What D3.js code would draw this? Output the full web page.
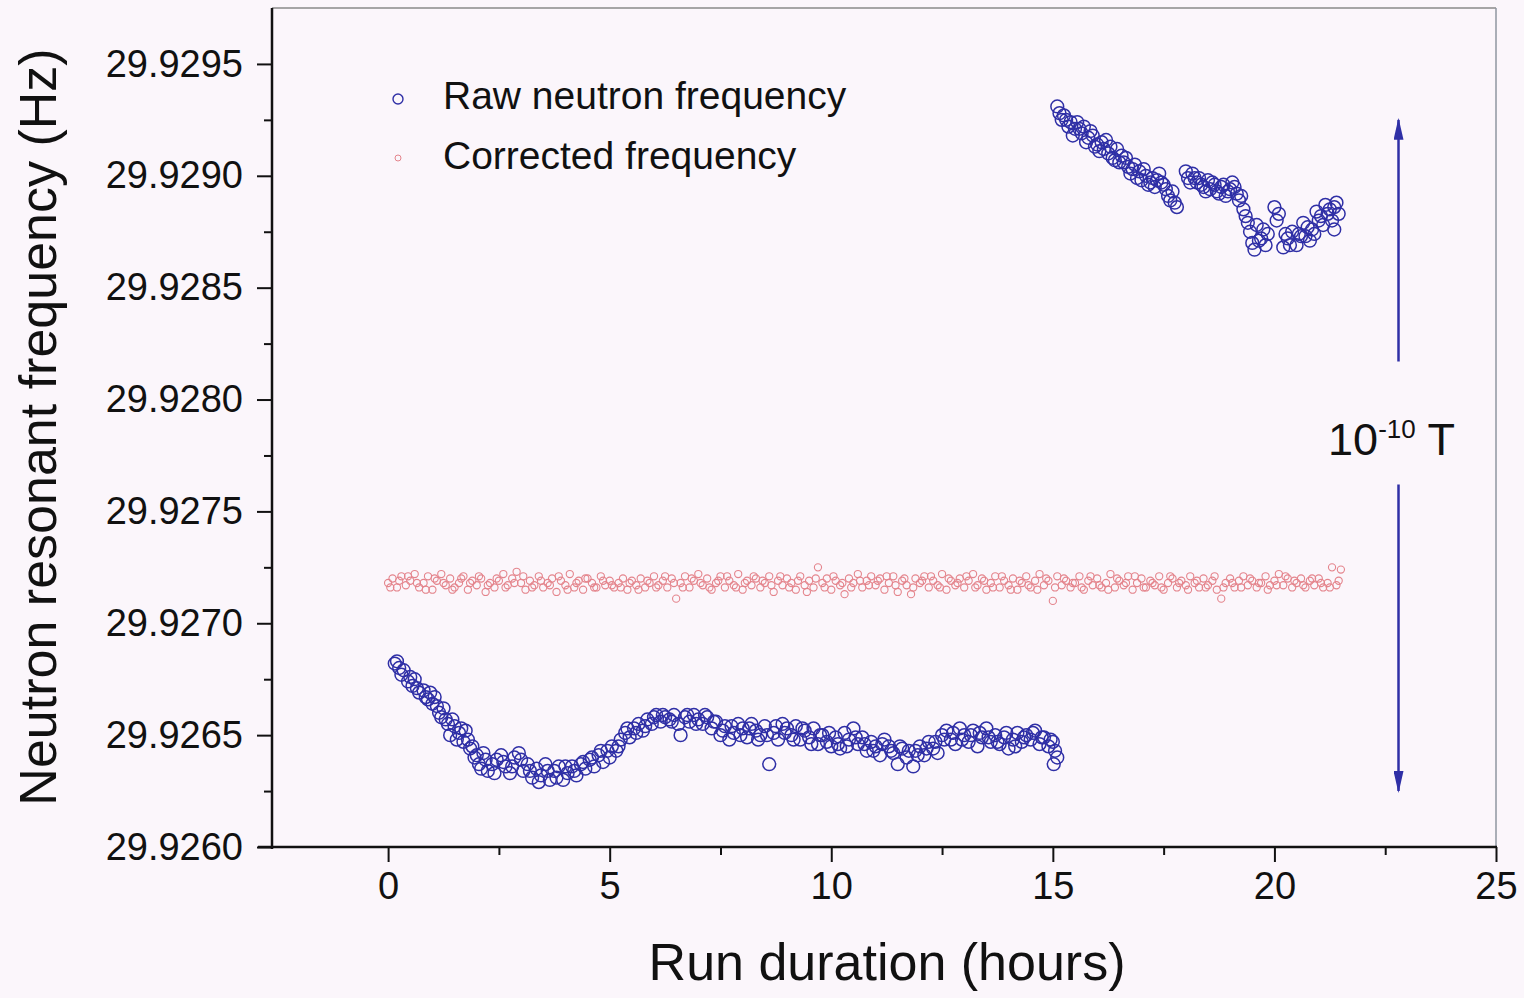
<!DOCTYPE html>
<html>
<head>
<meta charset="utf-8">
<script src="https://cdn.jsdelivr.net/npm/d3@7"></script>
<style>
  html, body { margin: 0; padding: 0; background: #fbf6fb; }
  svg { display: block; font-family: "Liberation Sans", Arial, sans-serif; }
</style>
</head>
<body>
<div id="chart"></div>
<script>
// [hours, Hz]
const rawEarly = [
  [0.15,29.92682],[0.2,29.92683],[0.3,29.92677],[0.35,29.92679],[0.45,29.92674],[0.55,29.92672],[0.6,29.92675],[0.7,29.92669],
  [0.8,29.92670],[0.9,29.92666],[1.0,29.92664],[1.05,29.92667],[1.15,29.92660],[1.25,29.92662],[1.3,29.92657],[1.4,29.92650],
  [1.5,29.92654],[1.6,29.92651],[1.7,29.92647],[1.75,29.92652],[1.85,29.92644],[1.95,29.92640],[2.05,29.92637],[2.15,29.92642],
  [2.25,29.92634],[2.35,29.92637],[2.45,29.92639],[2.55,29.92641],[2.65,29.92636],[2.75,29.92633],[2.85,29.92640],[2.95,29.92642],
  [3.05,29.92634],[3.15,29.92637],[3.25,29.92631],[3.35,29.92635],[3.45,29.92632],[3.55,29.92637],[3.65,29.92630],[3.75,29.92634],
  [3.85,29.92636],[3.95,29.92630],[4.05,29.92633],[4.15,29.92636],[4.25,29.92632],[4.35,29.92637],[4.45,29.92635],[4.55,29.92639],
  [4.65,29.92636],[4.75,29.92641],[4.85,29.92638],[4.95,29.92643],[5.05,29.92645],[5.15,29.92643],[5.25,29.92648],[5.35,29.92651],
  [5.45,29.92649],[5.55,29.92653],[5.65,29.92655],[5.75,29.92652],[5.85,29.92657],[5.95,29.92655],[6.05,29.92659],[6.15,29.92656],
  [6.25,29.92658],[6.35,29.92657],[6.45,29.92659],[6.55,29.92655],[6.6,29.92650],[6.7,29.92658],[6.8,29.92656],[6.9,29.92659],
  [7.0,29.92657],[7.1,29.92655],[7.2,29.92658],[7.3,29.92653],[7.4,29.92656],[7.5,29.92650],[7.6,29.92654],[7.7,29.92648],
  [7.8,29.92651],[7.9,29.92655],[8.0,29.92653],[8.1,29.92649],[8.2,29.92655],[8.3,29.92652],[8.4,29.92650],[8.5,29.92654],
  [8.6,29.92637],[8.7,29.92651],[8.8,29.92648],[8.9,29.92655],[9.0,29.92653],[9.1,29.92650],[9.2,29.92654],[9.3,29.92648],
  [9.4,29.92652],[9.5,29.92649],[9.6,29.92653],[9.7,29.92646],[9.8,29.92650],[9.9,29.92647],[10.0,29.92645],[10.1,29.92649],
  [10.2,29.92644],[10.3,29.92651],[10.4,29.92648],[10.5,29.92653],[10.6,29.92646],[10.7,29.92649],[10.8,29.92643],[10.9,29.92647],
  [11.0,29.92645],[11.1,29.92641],[11.2,29.92648],[11.3,29.92645],[11.4,29.92642],[11.5,29.92637],[11.6,29.92644],[11.7,29.92640],
  [11.85,29.92636],[11.9,29.92643],[12.0,29.92645],[12.1,29.92641],[12.2,29.92647],[12.3,29.92644],[12.4,29.92642],[12.5,29.92650],
  [12.6,29.92652],[12.7,29.92648],[12.8,29.92646],[12.9,29.92653],[13.0,29.92650],[13.1,29.92647],[13.2,29.92652],[13.3,29.92645],
  [13.4,29.92649],[13.5,29.92653],[13.6,29.92647],[13.7,29.92650],[13.8,29.92646],[13.9,29.92649],[14.0,29.92644],[14.1,29.92648],
  [14.2,29.92651],[14.3,29.92647],[14.4,29.92650],[14.5,29.92648],[14.6,29.92652],[14.7,29.92646],[14.8,29.92649],[14.9,29.92645],
  [15.0,29.92647],[15.02,29.92637],[15.05,29.92643],[15.1,29.92640],
  [0.25,29.92680],[0.5,29.92676],[0.65,29.92671],[0.85,29.92667],[0.95,29.92669],[1.1,29.92663],[1.2,29.92658],[1.35,29.92655],
  [1.45,29.92657],[1.55,29.92648],[1.65,29.92653],[1.8,29.92648],[1.9,29.92645],[2.0,29.92641],[2.1,29.92635],[2.2,29.92639],
  [2.4,29.92633],[2.6,29.92638],[2.8,29.92636],[3.0,29.92639],[3.2,29.92634],[3.4,29.92629],[3.6,29.92634],[3.8,29.92631],
  [4.0,29.92636],[4.2,29.92634],[4.4,29.92638],[4.6,29.92640],[4.8,29.92643],[5.0,29.92640],[5.2,29.92645],[5.4,29.92653],
  [5.6,29.92651],[5.8,29.92654],[6.0,29.92658],[6.2,29.92659],[6.4,29.92656],[6.75,29.92659],[6.95,29.92655],[7.15,29.92659],
  [7.35,29.92656],[7.55,29.92652],[7.75,29.92654],[7.95,29.92650],[8.15,29.92653],[8.35,29.92648],[8.55,29.92650],[8.75,29.92654],
  [8.95,29.92651],[9.15,29.92648],[9.35,29.92653],[9.55,29.92646],[9.75,29.92650],[9.95,29.92651],[10.15,29.92646],[10.35,29.92645],
  [10.55,29.92649],[10.75,29.92646],[10.95,29.92643],[11.15,29.92646],[11.35,29.92643],[11.55,29.92645],[11.75,29.92643],[11.95,29.92641],
  [12.15,29.92644],[12.35,29.92647],[12.55,29.92648],[12.75,29.92651],[12.95,29.92648],[13.15,29.92650],[13.35,29.92651],[13.55,29.92649],
  [13.75,29.92647],[13.95,29.92651],[14.15,29.92645],[14.35,29.92649],[14.55,29.92651],[14.75,29.92649],[14.95,29.92648]
];

const rawLate = [
  [15.1,29.92931],[15.15,29.92928],[15.2,29.92925],[15.25,29.92927],[15.35,29.92922],[15.4,29.92924],[15.5,29.92921],[15.55,29.92924],
  [15.65,29.92919],[15.7,29.92922],[15.8,29.92917],[15.9,29.92918],[15.95,29.92913],[16.05,29.92911],[16.1,29.92915],[16.2,29.92916],
  [16.25,29.92910],[16.35,29.92908],[16.45,29.92912],[16.55,29.92909],[16.6,29.92906],[16.7,29.92904],[16.75,29.92901],[16.85,29.92905],
  [16.95,29.92902],[17.0,29.92898],[17.1,29.92900],[17.15,29.92896],[17.25,29.92899],[17.3,29.92895],[17.4,29.92901],[17.45,29.92897],
  [17.55,29.92894],[17.6,29.92891],[17.7,29.92893],[17.75,29.92888],[17.8,29.92886],[18.0,29.92902],[18.05,29.92899],[18.15,29.92901],
  [18.25,29.92897],[18.3,29.92899],[18.4,29.92895],[18.5,29.92898],[18.55,29.92894],[18.65,29.92896],[18.75,29.92892],[18.8,29.92895],
  [18.9,29.92891],[19.0,29.92894],[19.05,29.92897],[19.15,29.92892],[19.2,29.92889],[19.3,29.92885],[19.35,29.92882],[19.45,29.92875],
  [19.5,29.92870],[19.55,29.92867],[19.6,29.92878],[19.7,29.92872],[19.8,29.92869],[19.85,29.92874],[20.0,29.92886],[20.1,29.92883],
  [20.2,29.92868],[20.3,29.92872],[20.4,29.92875],[20.5,29.92869],[20.6,29.92873],[20.65,29.92879],[20.75,29.92877],[20.8,29.92871],
  [20.9,29.92874],[20.95,29.92884],[21.05,29.92882],[21.1,29.92878],[21.15,29.92887],[21.25,29.92885],[21.3,29.92880],[21.35,29.92876],
  [21.4,29.92888],[21.45,29.92883],
  [15.3,29.92925],[15.45,29.92918],[15.6,29.92921],[15.75,29.92915],[15.85,29.92920],[16.0,29.92914],[16.15,29.92912],[16.3,29.92913],
  [16.4,29.92907],[16.5,29.92906],[16.65,29.92908],[16.8,29.92903],[16.9,29.92899],[17.05,29.92903],[17.2,29.92897],[17.35,29.92898],
  [17.5,29.92896],[17.65,29.92889],[18.1,29.92897],[18.2,29.92899],[18.35,29.92896],[18.45,29.92893],[18.6,29.92897],[18.7,29.92893],
  [18.85,29.92896],[18.95,29.92893],[19.1,29.92895],[19.25,29.92891],[19.4,29.92879],[19.65,29.92871],[19.75,29.92876],[20.05,29.92880],
  [20.25,29.92874],[20.35,29.92869],[20.55,29.92874],[20.7,29.92873],[20.85,29.92876],[21.0,29.92880],[21.2,29.92883],[21.35,29.92886]
];

const corrected = [
  [0.0,29.92718],[0.1,29.92720],[0.2,29.92716],[0.3,29.92721],[0.4,29.92717],[0.5,29.92719],[0.6,29.92722],[0.7,29.92716],[0.8,29.92718],
  [0.9,29.92721],[1.0,29.92715],[1.1,29.92719],[1.2,29.92722],[1.3,29.92717],[1.4,29.92720],[1.5,29.92716],[1.6,29.92718],[1.7,29.92721],
  [1.8,29.92715],[1.9,29.92719],[2.0,29.92717],[2.1,29.92720],[2.2,29.92714],[2.3,29.92718],[2.4,29.92716],[2.5,29.92719],[2.6,29.92722],
  [2.7,29.92717],[2.8,29.92720],[2.9,29.92723],[3.0,29.92718],[3.1,29.92715],[3.2,29.92719],[3.3,29.92717],[3.4,29.92721],[3.5,29.92716],
  [3.6,29.92718],[3.7,29.92720],[3.8,29.92714],[3.9,29.92719],[4.0,29.92717],[4.1,29.92722],[4.2,29.92716],[4.3,29.92719],[4.4,29.92715],
  [4.5,29.92720],[4.6,29.92718],[4.7,29.92716],[4.8,29.92721],[4.9,29.92717],[5.0,29.92719],[5.1,29.92716],[5.2,29.92718],[5.3,29.92720],
  [5.4,29.92715],[5.5,29.92719],[5.6,29.92717],[5.7,29.92720],[5.8,29.92716],[5.9,29.92718],[6.0,29.92721],[6.1,29.92717],[6.2,29.92719],
  [6.3,29.92716],[6.4,29.92720],[6.5,29.92711],[6.6,29.92718],[6.7,29.92721],[6.8,29.92716],[6.9,29.92719],[7.0,29.92722],[7.1,29.92717],
  [7.2,29.92720],[7.3,29.92715],[7.4,29.92718],[7.5,29.92721],[7.6,29.92716],[7.7,29.92719],[7.8,29.92717],[7.9,29.92722],[8.0,29.92715],
  [8.1,29.92719],[8.2,29.92717],[8.3,29.92720],[8.4,29.92716],[8.5,29.92718],[8.6,29.92721],[8.7,29.92714],[8.8,29.92719],[8.9,29.92717],
  [9.0,29.92720],[9.1,29.92718],[9.2,29.92715],[9.3,29.92721],[9.4,29.92717],[9.5,29.92719],[9.6,29.92716],[9.7,29.92725],[9.8,29.92718],
  [9.9,29.92720],[10.0,29.92715],[10.1,29.92719],[10.2,29.92717],[10.3,29.92713],[10.4,29.92720],[10.5,29.92718],[10.6,29.92722],[10.7,29.92716],
  [10.8,29.92719],[10.9,29.92721],[11.0,29.92717],[11.1,29.92720],[11.2,29.92715],[11.3,29.92718],[11.4,29.92721],[11.5,29.92714],[11.6,29.92719],
  [11.7,29.92717],[11.8,29.92713],[11.9,29.92720],[12.0,29.92718],[12.1,29.92721],[12.2,29.92716],[12.3,29.92719],[12.4,29.92717],[12.5,29.92722],
  [12.6,29.92715],[12.7,29.92719],[12.8,29.92717],[12.9,29.92720],[13.0,29.92716],[13.1,29.92719],[13.2,29.92722],[13.3,29.92717],[13.4,29.92720],
  [13.5,29.92715],[13.6,29.92718],[13.7,29.92721],[13.8,29.92716],[13.9,29.92719],[14.0,29.92717],[14.1,29.92720],[14.2,29.92715],[14.3,29.92718],
  [14.4,29.92721],[14.5,29.92716],[14.6,29.92719],[14.7,29.92722],[14.8,29.92717],[14.9,29.92719],[15.0,29.92710],[15.1,29.92721],[15.2,29.92717],
  [15.3,29.92719],[15.4,29.92716],[15.5,29.92718],[15.6,29.92721],[15.7,29.92715],[15.8,29.92719],[15.9,29.92717],[16.0,29.92720],[16.1,29.92716],
  [16.2,29.92718],[16.3,29.92722],[16.4,29.92716],[16.5,29.92719],[16.6,29.92717],[16.7,29.92721],[16.8,29.92715],[16.9,29.92718],[17.0,29.92720],
  [17.1,29.92716],[17.2,29.92719],[17.3,29.92717],[17.4,29.92721],[17.5,29.92715],[17.6,29.92718],[17.7,29.92720],[17.8,29.92716],[17.9,29.92719],
  [18.0,29.92717],[18.1,29.92721],[18.2,29.92718],[18.3,29.92716],[18.4,29.92720],[18.5,29.92717],[18.6,29.92719],[18.7,29.92715],[18.8,29.92711],
  [18.9,29.92718],[19.0,29.92720],[19.1,29.92716],[19.2,29.92719],[19.3,29.92721],[19.4,29.92717],[19.5,29.92719],[19.6,29.92716],[19.7,29.92718],
  [19.8,29.92721],[19.9,29.92717],[20.0,29.92719],[20.1,29.92722],[20.2,29.92717],[20.3,29.92720],[20.4,29.92716],[20.5,29.92718],[20.6,29.92720],
  [20.7,29.92716],[20.8,29.92719],[20.9,29.92717],[21.0,29.92720],[21.1,29.92716],[21.2,29.92718],[21.3,29.92725],[21.4,29.92717],[21.5,29.92724],
  [0.05,29.92716],[0.25,29.92719],[0.45,29.92721],[0.65,29.92718],[0.85,29.92715],[1.05,29.92720],[1.25,29.92718],[1.45,29.92715],[1.65,29.92720],
  [1.85,29.92718],[2.05,29.92721],[2.25,29.92717],[2.45,29.92720],[2.65,29.92716],[2.85,29.92718],[3.05,29.92721],[3.25,29.92716],[3.45,29.92719],
  [3.65,29.92717],[3.85,29.92721],[4.05,29.92715],[4.25,29.92718],[4.45,29.92720],[4.65,29.92716],[4.85,29.92719],[5.05,29.92717],[5.25,29.92716],
  [5.45,29.92718],[5.65,29.92715],[5.85,29.92719],[6.05,29.92716],[6.25,29.92721],[6.45,29.92718],[6.65,29.92716],[6.85,29.92720],[7.05,29.92718],
  [7.25,29.92716],[7.45,29.92719],[7.65,29.92721],[7.85,29.92716],[8.05,29.92718],[8.25,29.92721],[8.45,29.92719],[8.65,29.92717],[8.85,29.92721],
  [9.05,29.92716],[9.25,29.92719],[9.45,29.92714],[9.65,29.92720],[9.85,29.92716],[10.05,29.92721],[10.25,29.92718],[10.45,29.92716],[10.65,29.92719],
  [10.85,29.92717],[11.05,29.92719],[11.25,29.92721],[11.45,29.92717],[11.65,29.92720],[11.85,29.92716],[12.05,29.92719],[12.25,29.92721],[12.45,29.92716],
  [12.65,29.92720],[12.85,29.92718],[13.05,29.92721],[13.25,29.92716],[13.45,29.92719],[13.65,29.92716],[13.85,29.92721],[14.05,29.92715],[14.25,29.92719],
  [14.45,29.92717],[14.65,29.92715],[14.85,29.92720],[15.05,29.92716],[15.25,29.92720],[15.45,29.92718],[15.65,29.92716],[15.85,29.92721],[16.05,29.92717],
  [16.25,29.92715],[16.45,29.92720],[16.65,29.92718],[16.85,29.92721],[17.05,29.92716],[17.25,29.92718],[17.45,29.92716],[17.65,29.92721],[17.85,29.92718],
  [18.05,29.92715],[18.25,29.92719],[18.45,29.92716],[18.65,29.92721],[18.85,29.92716],[19.05,29.92718],[19.25,29.92716],[19.45,29.92720],[19.65,29.92718],
  [19.85,29.92715],[20.05,29.92717],[20.25,29.92721],[20.45,29.92719],[20.65,29.92717],[20.85,29.92720],[21.05,29.92718],[21.25,29.92716],[21.45,29.92719]
];

const xMajorTicks = [0, 5, 10, 15, 20, 25];
const xMinorTicks = [2.5, 7.5, 12.5, 17.5, 22.5];
const yMajorTicks = [29.9260, 29.9265, 29.9270, 29.9275, 29.9280, 29.9285, 29.9290, 29.9295];
const yMinorTicks = [29.92625, 29.92675, 29.92725, 29.92775, 29.92825, 29.92875, 29.92925];
const legendLabels = ["Raw neutron frequency", "Corrected frequency"];

// the 10^-10 T double arrow, in data units
const arrowHour = 22.8;
const arrowTop = 29.92925, arrowUpperEnd = 29.92817;
const arrowLowerStart = 29.92762, arrowBottom = 29.92625;
const arrowLabelAt = 29.92782;

const width = 1524, height = 998;
const margin = {top: 8, right: 28, bottom: 151, left: 272};
const blue = "#2f2fa6", pink = "#e4848c";

let svg = d3.select("#chart").append("svg")
    .attr("width", width)
    .attr("height", height);

let x = d3.scaleLinear().domain([-2.62, 25]).range([margin.left, width - margin.right]);
let y = d3.scaleLinear().domain([29.926, 29.92975]).range([height - margin.bottom, margin.top]);

let x0 = margin.left, x1 = width - margin.right;
let y0 = height - margin.bottom, y1 = margin.top;

// frame: top and right edges are thin and grey
svg.append("line").attr("x1", x0).attr("x2", x1).attr("y1", y1).attr("y2", y1)
    .attr("stroke", "#8a8a8a").attr("stroke-width", 1.5);
svg.append("line").attr("x1", x1).attr("x2", x1).attr("y1", y1).attr("y2", y0)
    .attr("stroke", "#8f96a0").attr("stroke-width", 1.5);

// axes
function styleAxis(g) {
    g.select(".domain").remove();
    g.selectAll(".tick line").attr("stroke", "#111").attr("stroke-width", 2);
    g.selectAll(".tick text").attr("fill", "#111").style("font-size", "38px")
        .style("font-family", "'Liberation Sans', Arial, sans-serif");
}

svg.append("g").attr("transform", "translate(0," + y0 + ")")
    .call(d3.axisBottom(x).tickValues(xMinorTicks).tickSize(8).tickFormat(""))
    .call(styleAxis);
svg.append("g").attr("transform", "translate(0," + y0 + ")")
    .call(d3.axisBottom(x).tickValues(xMajorTicks).tickSize(15).tickPadding(10).tickFormat(d3.format("d")))
    .call(styleAxis);

svg.append("g").attr("transform", "translate(" + x0 + ",0)")
    .call(d3.axisLeft(y).tickValues(yMinorTicks).tickSize(8).tickFormat(""))
    .call(styleAxis);
svg.append("g").attr("transform", "translate(" + x0 + ",0)")
    .call(d3.axisLeft(y).tickValues(yMajorTicks).tickSize(15).tickPadding(14).tickFormat(d3.format(".4f")))
    .call(styleAxis);

svg.append("line").attr("x1", x0 - 14).attr("x2", x1 + 1).attr("y1", y0).attr("y2", y0)
    .attr("stroke", "#111").attr("stroke-width", 2.5);
svg.append("line").attr("x1", x0).attr("x2", x0).attr("y1", y1).attr("y2", y0 + 2)
    .attr("stroke", "#111").attr("stroke-width", 2.5);

// axis titles
svg.append("text")
    .attr("x", (x(0) + x(25)) / 2 - 55)
    .attr("y", 980)
    .attr("text-anchor", "middle")
    .attr("fill", "#111")
    .style("font-size", "52px")
    .text("Run duration (hours)");

svg.append("text")
    .attr("transform", "translate(56," + 427 + ") rotate(-90)")
    .attr("text-anchor", "middle")
    .attr("fill", "#111")
    .style("font-size", "52px")
    .text("Neutron resonant frequency (Hz)");

// data
let plot = svg.append("g");

plot.append("g").selectAll("circle")
    .data(corrected)
    .enter().append("circle")
    .attr("cx", d => x(d[0]))
    .attr("cy", d => y(d[1]))
    .attr("r", 3.6)
    .attr("fill", "none")
    .attr("stroke", pink)
    .attr("stroke-width", 1.1);

plot.append("g").selectAll("circle")
    .data(rawEarly.concat(rawLate))
    .enter().append("circle")
    .attr("cx", d => x(d[0]))
    .attr("cy", d => y(d[1]))
    .attr("r", 6.4)
    .attr("fill", "none")
    .attr("stroke", blue)
    .attr("stroke-width", 1.5);

// legend
let legend = svg.append("g");
legend.append("circle").attr("cx", 398).attr("cy", 99).attr("r", 5)
    .attr("fill", "none").attr("stroke", blue).attr("stroke-width", 1.4);
legend.append("circle").attr("cx", 398).attr("cy", 158).attr("r", 3)
    .attr("fill", "none").attr("stroke", pink).attr("stroke-width", 1);
legend.selectAll("text")
    .data(legendLabels)
    .enter().append("text")
    .attr("x", 443)
    .attr("y", (d, i) => 109 + i * 60)
    .attr("fill", "#111")
    .style("font-size", "39px")
    .text(d => d);

// double arrow
let ax = x(arrowHour);
svg.append("defs").append("marker")
    .attr("id", "head")
    .attr("viewBox", "0 0 22 10")
    .attr("refX", 20).attr("refY", 5)
    .attr("markerWidth", 22).attr("markerHeight", 10)
    .attr("markerUnits", "userSpaceOnUse")
    .attr("orient", "auto")
    .append("path")
    .attr("d", "M0,0 L22,5 L0,10 Z")
    .attr("fill", blue);

svg.append("line")
    .attr("x1", ax).attr("x2", ax)
    .attr("y1", y(arrowUpperEnd)).attr("y2", y(arrowTop))
    .attr("stroke", blue).attr("stroke-width", 2.5)
    .attr("marker-end", "url(#head)");
svg.append("line")
    .attr("x1", ax).attr("x2", ax)
    .attr("y1", y(arrowLowerStart)).attr("y2", y(arrowBottom))
    .attr("stroke", blue).attr("stroke-width", 2.5)
    .attr("marker-end", "url(#head)");

let label = svg.append("text")
    .attr("x", ax - 7)
    .attr("y", y(arrowLabelAt) + 15)
    .attr("text-anchor", "middle")
    .attr("fill", "#111")
    .style("font-size", "45px");
label.append("tspan").text("10");
label.append("tspan").attr("dy", -17).style("font-size", "26px").text("-10");
label.append("tspan").attr("dy", 17).text(" T");
</script>
</body>
</html>
